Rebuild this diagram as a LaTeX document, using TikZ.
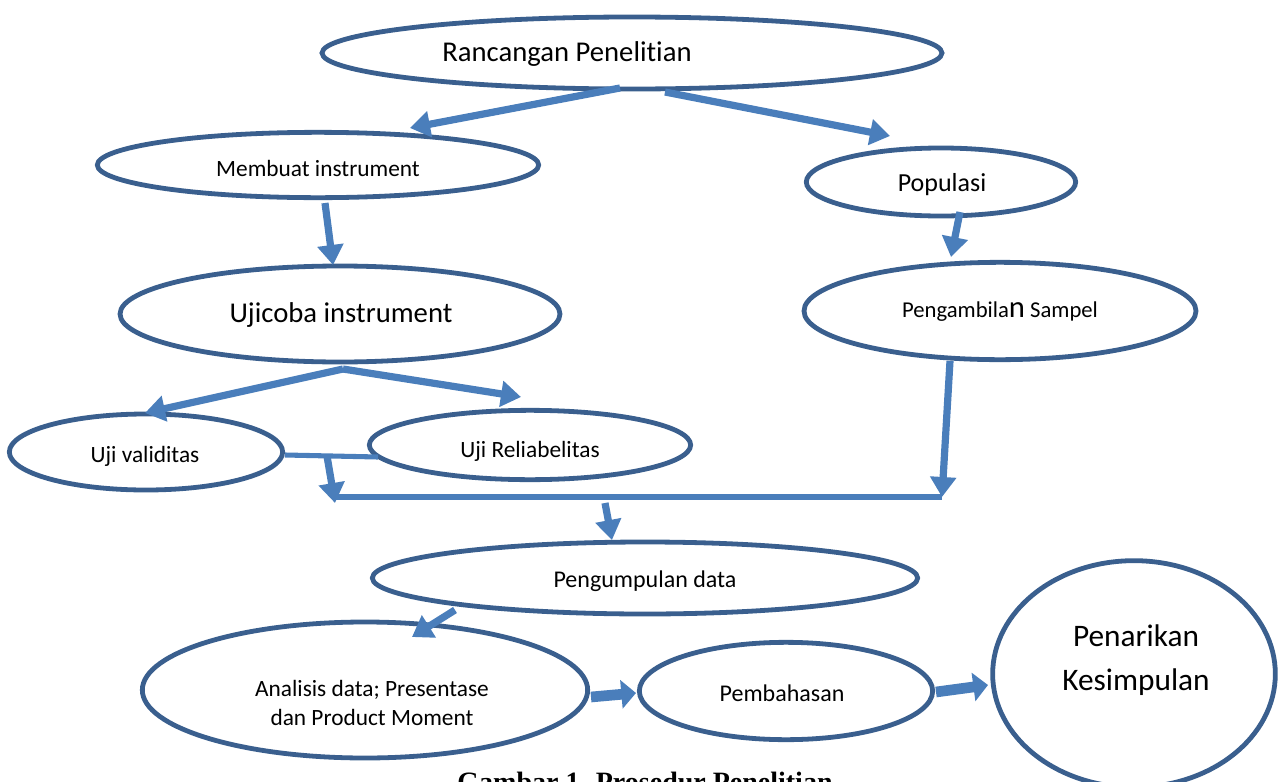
\documentclass[tikz,border=0pt]{standalone}
\usepackage{fontspec}
\setmainfont{Carlito}[Ligatures={NoCommon}]
\newfontfamily\capfont{Liberation Serif}
\usetikzlibrary{shapes.geometric,arrows.meta,calc}
\definecolor{edgeblue}{HTML}{3A5F8E}
\definecolor{arrowblue}{HTML}{4A7EBB}
\begin{document}
\begin{tikzpicture}[x=0.75pt,y=-0.75pt,
  ell/.style={ellipse, draw=edgeblue, line width=3.6pt, fill=white, inner sep=0pt},
  lbl/.style={inner sep=0pt, text=black, align=center},
  flow/.style={draw=arrowblue, line width=5.4pt, line cap=butt, -{Triangle[width=19pt,length=15pt]}},
  flowthick/.style={draw=arrowblue, line width=8pt, line cap=butt, -{Triangle[width=21pt,length=11pt]}},
  link/.style={draw=arrowblue, line width=3.8pt, line cap=butt}]
\useasboundingbox (0,0) rectangle (1279,782);
% ellipses
\node[ell, minimum width=465pt, minimum height=54pt] (rp) at (632,53) {};
\node[ell, minimum width=331pt, minimum height=49pt] (mi) at (318,165) {};
\node[ell, minimum width=202pt, minimum height=51pt] (po) at (941,182) {};
\node[ell, minimum width=330pt, minimum height=72pt] (ui) at (340,314) {};
\node[ell, minimum width=294pt, minimum height=73pt] (ps) at (1000,311) {};
\node[ell, minimum width=205pt, minimum height=57pt] (uv) at (146,452) {};
\node[ell, minimum width=241pt, minimum height=52pt] (ur) at (530,445) {};
\node[ell, minimum width=409pt, minimum height=54pt] (pd) at (645,578) {};
\node[ell, minimum width=334pt, minimum height=102pt] (ad) at (365,690) {};
\node[ell, minimum width=220pt, minimum height=73pt] (pb) at (786,691) {};
\node[ell, minimum width=212pt, minimum height=170pt] (pk) at (1134,674) {};
% texts
\node[lbl, font=\fontsize{21.5pt}{26pt}\selectfont] (trp) at (567,54) {Rancangan Penelitian};
\node[lbl, font=\fontsize{17.5pt}{21pt}\selectfont] (tmi) at (318,168) {Membuat instrument};
\node[lbl, font=\fontsize{19.5pt}{23pt}\selectfont] (tpo) at (942,185) {Populasi};
\node[lbl, font=\fontsize{21.5pt}{26pt}\selectfont] (tui) at (341,315) {Ujicoba instrument};
\node[lbl, font=\fontsize{17pt}{21pt}\selectfont] (tps) at (1000,312) {Pengambila{\fontsize{23pt}{26pt}\selectfont n} Sampel};
\node[lbl, font=\fontsize{17.5pt}{21pt}\selectfont] (tuv) at (145,456) {Uji validitas};
\node[lbl, font=\fontsize{17.5pt}{21pt}\selectfont] (tur) at (530,451) {Uji Reliabelitas};
\node[lbl, font=\fontsize{18pt}{21pt}\selectfont] (tpd) at (645,581) {Pengumpulan data};
\node[lbl, font=\fontsize{17.5pt}{22pt}\selectfont] (tad) at (372,703) {Analisis data; Presentase\\dan Product Moment};
\node[lbl, font=\fontsize{18pt}{21pt}\selectfont] (tpb) at (782,693) {Pembahasan};
\node[lbl, font=\fontsize{23.5pt}{33pt}\selectfont] (tpk) at (1136,660) {Penarikan\\Kesimpulan};
\node[inner sep=0pt, anchor=base, font=\capfont\bfseries\fontsize{21pt}{25pt}\selectfont] (cap) at (645,791) {Gambar 1. Prosedur Penelitian};
% connector points
\coordinate (busL) at (335,497);
\coordinate (busR) at (942,497);
\coordinate (j1) at (327,456);
\coordinate (j2) at (605,503);
% connectors
\draw[flow] ($(rp)+(-12,35)$) -- ($(mi)+(92,-37)$);
\draw[flow] ($(rp)+(33,39)$) -- ($(po)+(-51,-46)$);
\draw[flow] ($(mi)+(7,38)$) -- ($(ui)+(-7,-49)$);
\draw[flow] ($(po)+(19,30)$) -- ($(ps)+(-49,-54)$);
\draw[flow] ($(ui)+(3,55)$) -- ($(uv)+(-1,-39)$);
\draw[flow] ($(ui)+(3,55)$) -- ($(ur)+(-9,-48)$);
\draw[link] ($(uv)+(139,3)$) -- ($(ur)+(-152,12)$);
\draw[link] (busL) -- (busR);
\draw[flow] (j1) -- ($(busL)+(0,6)$);
\draw[flow] ($(ps)+(-50,50)$) -- (busR);
\draw[flow] (j2) -- ($(pd)+(-33,-38)$);
\draw[flow] ($(pd)+(-190,32)$) -- ($(ad)+(47,-53)$);
\draw[flowthick] ($(ad)+(226,7)$) -- ($(pb)+(-150,2)$);
\draw[flowthick] ($(pb)+(150,1)$) -- ($(pk)+(-146,11)$);
\end{tikzpicture}
\end{document}
